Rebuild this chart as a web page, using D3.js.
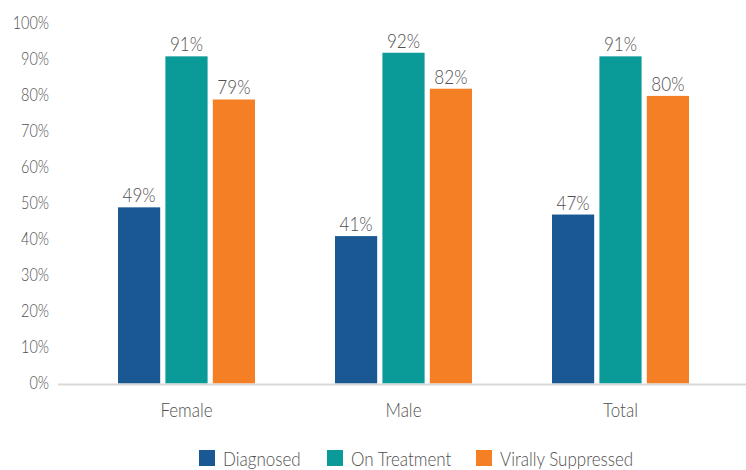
<!DOCTYPE html>
<html>
<head>
<meta charset="utf-8">
<script src="https://cdn.jsdelivr.net/npm/d3@7"></script>
<style>
  body { margin: 0; background: #fff; }
  text { font-family: Lato, "Noto Sans", sans-serif; font-weight: 300; fill: #505050; }
</style>
</head>
<body>
<div id="chart"></div>
<script>
const groups = ["Female", "Male", "Total"];
const seriesNames = ["Diagnosed", "On Treatment", "Virally Suppressed"];
const diagnosed = [49, 41, 47];
const onTreatment = [91, 92, 91];
const virallySuppressed = [79, 82, 80];
const yTicks = [0, 10, 20, 30, 40, 50, 60, 70, 80, 90, 100];
const colors = ["#1a5894", "#0a9a98", "#f47f24"];

const width = 746;
const height = 470;
const squeeze = 0.85; // the text in the picture is narrow

const svg = d3.select("#chart")
    .append("svg")
    .attr("width", width)
    .attr("height", height);

const x = d3.scaleBand().domain(groups).range([78, 729]);
const xInner = d3.scaleBand().domain(seriesNames).range([0, 137]).paddingInner(0.11);
const y = d3.scaleLinear().domain([0, 100]).range([383.5, 24]);

const rows = groups.map((g, i) => ({
    group: g,
    values: [diagnosed[i], onTreatment[i], virallySuppressed[i]]
}));

function place(px, py, s) {
    return `translate(${px},${py}) scale(${s || squeeze},1)`;
}

// y tick labels (no axis line)
svg.selectAll(".ytick")
    .data(yTicks)
    .enter().append("text")
    .attr("class", "ytick")
    .attr("transform", d => place(49, y(d) + 5, 0.8))
    .attr("text-anchor", "end")
    .attr("font-size", 18)
    .text(d => d + "%");

const groupG = svg.selectAll(".group")
    .data(rows)
    .enter().append("g")
    .attr("transform", d => `translate(${x(d.group) + (x.bandwidth() - 137) / 2},0)`);

groupG.selectAll("rect")
    .data(d => d.values.map((v, j) => ({ name: seriesNames[j], value: v, j })))
    .enter().append("rect")
    .attr("x", d => xInner(d.name))
    .attr("y", d => y(d.value))
    .attr("width", xInner.bandwidth())
    .attr("height", d => y(0) - y(d.value))
    .attr("fill", d => colors[d.j]);

groupG.selectAll(".val")
    .data(d => d.values.map((v, j) => ({ name: seriesNames[j], value: v, j })))
    .enter().append("text")
    .attr("class", "val")
    .attr("transform", d => place(xInner(d.name) + xInner.bandwidth() / 2, y(d.value) - 5, 0.9))
    .attr("text-anchor", "middle")
    .attr("font-size", 19)
    .text(d => d.value + "%");

// baseline
svg.append("line")
    .attr("x1", 58).attr("x2", 746)
    .attr("y1", y(0) + 1).attr("y2", y(0) + 1)
    .attr("stroke", "#d9d9d9")
    .attr("stroke-width", 2);

// category labels
svg.selectAll(".cat")
    .data(groups)
    .enter().append("text")
    .attr("class", "cat")
    .attr("transform", d => place(x(d) + x.bandwidth() / 2, 417))
    .attr("text-anchor", "middle")
    .attr("font-size", 20)
    .text(d => d);

// legend
const legendX = [199, 327, 476];
const legend = svg.selectAll(".legend")
    .data(seriesNames)
    .enter().append("g")
    .attr("transform", (d, i) => `translate(${legendX[i]},450)`);

legend.append("rect")
    .attr("width", 16)
    .attr("height", 16)
    .attr("fill", (d, i) => colors[i]);

legend.append("text")
    .attr("transform", place(24, 16))
    .attr("font-size", 20)
    .text(d => d);
</script>
</body>
</html>
